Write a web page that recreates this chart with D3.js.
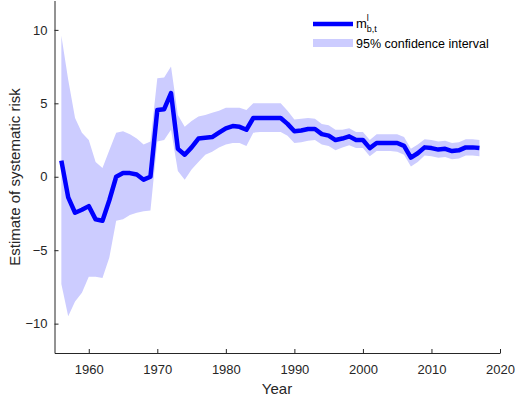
<!DOCTYPE html>
<html>
<head>
<meta charset="utf-8">
<script src="https://d3js.org/d3.v7.min.js"></script>
<style>
  body { margin: 0; background: #fff; }
  svg { font-family: "Liberation Sans", Arial, sans-serif; }
</style>
</head>
<body>
<svg width="515" height="401"></svg>
<script>
  // yearly estimates, 1956-2017
  var years = d3.range(1956, 2018);
  var estimate = [
    1.1, -1.4, -2.45, -2.25, -2.0, -2.9, -3.0, -1.6, 0.0, 0.25,
    0.25, 0.15, -0.2, 0.0, 4.55, 4.6, 5.7, 1.9, 1.5, 2.0,
    2.6, 2.65, 2.7, 3.0, 3.3, 3.45, 3.4, 3.2, 4.0, 4.0,
    4.0, 4.0, 4.0, 3.6, 3.1, 3.15, 3.25, 3.25, 2.9, 2.8,
    2.5, 2.6, 2.75, 2.5, 2.5, 1.95, 2.3, 2.3, 2.3, 2.3,
    2.1, 1.3, 1.6, 2.0, 1.95, 1.85, 1.9, 1.75, 1.8, 2.0,
    2.0, 1.95
  ];
  var upper = [
    9.6, 6.6, 4.0, 3.0, 2.5, 1.0, 0.6, 1.8, 3.0, 3.1,
    2.9, 2.6, 2.2, 2.4, 6.7, 6.75, 7.5, 4.2, 3.4, 3.8,
    4.1, 4.2, 4.35, 4.5, 4.7, 4.7, 4.7, 4.55, 5.0, 5.0,
    5.0, 5.0, 5.0, 4.5, 3.9, 3.95, 4.0, 3.95, 3.6, 3.5,
    3.2, 3.2, 3.3, 3.05, 3.05, 2.5, 2.9, 2.9, 2.9, 2.9,
    2.7, 1.9, 2.2, 2.55, 2.5, 2.4, 2.45, 2.3, 2.35, 2.55,
    2.55, 2.5
  ];
  var lower = [
    -7.3, -9.5, -8.5, -7.9, -6.8, -6.8, -6.9, -5.5, -3.0, -2.9,
    -2.6, -2.45, -2.35, -2.3, 2.4, 2.5, 3.2, 0.4, -0.2, 0.5,
    1.0, 1.5, 1.7, 2.0, 2.2, 2.3, 2.3, 2.1, 3.0, 3.05,
    3.05, 3.05, 3.05, 2.8, 2.3, 2.35, 2.45, 2.5, 2.2, 2.1,
    1.8, 2.0, 2.15, 1.95, 1.95, 1.4, 1.75, 1.75, 1.75, 1.7,
    1.5, 0.7, 1.0, 1.45, 1.4, 1.3, 1.35, 1.2, 1.25, 1.45,
    1.45, 1.4
  ];
  var xTicks = [1960, 1970, 1980, 1990, 2000, 2010, 2020];
  var yTicks = [-10, -5, 0, 5, 10];

  var data = years.map(function (y, i) {
    return { year: y, est: estimate[i], hi: upper[i], lo: lower[i] };
  });

  var svg = d3.select("svg");
  var ink = "#262626";

  var x = d3.scaleLinear().domain([1955, 2020]).range([54.5, 500]);
  var y = d3.scaleLinear().domain([-12, 12]).range([353, 0.5]);

  var area = d3.area()
    .x(function (d) { return x(d.year); })
    .y0(function (d) { return y(d.lo); })
    .y1(function (d) { return y(d.hi); });

  var line = d3.line()
    .x(function (d) { return x(d.year); })
    .y(function (d) { return y(d.est); });

  svg.append("path")
    .datum(data)
    .attr("d", area)
    .attr("fill", "#ccccff")
    .attr("stroke", "none");

  svg.append("path")
    .datum(data)
    .attr("d", line)
    .attr("fill", "none")
    .attr("stroke", "#0000ff")
    .attr("stroke-width", 4.5)
    .attr("stroke-linejoin", "round");

  // axes with inward ticks, like matlab
  var xAxis = svg.append("g")
    .attr("transform", "translate(0,353)")
    .call(d3.axisBottom(x).tickValues(xTicks).tickFormat(d3.format("d"))
      .tickSizeInner(-4).tickSizeOuter(0).tickPadding(12));
  var yAxis = svg.append("g")
    .attr("transform", "translate(54.5,0)")
    .call(d3.axisLeft(y).tickValues(yTicks).tickSizeInner(-4).tickSizeOuter(0).tickPadding(7));

  [xAxis, yAxis].forEach(function (g) {
    g.select(".domain").attr("stroke", ink);
    g.selectAll(".tick line").attr("stroke", ink);
    g.selectAll(".tick text").attr("fill", ink).style("font-size", "13px")
      .style("font-family", "'Liberation Sans', Arial, sans-serif");
  });

  svg.append("text")
    .attr("x", 277).attr("y", 394)
    .attr("text-anchor", "middle")
    .attr("fill", ink)
    .style("font-size", "15px")
    .text("Year");

  svg.append("text")
    .attr("transform", "translate(20,177) rotate(-90)")
    .attr("text-anchor", "middle")
    .attr("fill", ink)
    .style("font-size", "15px")
    .text("Estimate of systematic risk");

  // legend
  var lg = svg.append("g");
  lg.append("line")
    .attr("x1", 313).attr("x2", 353).attr("y1", 24).attr("y2", 24)
    .attr("stroke", "#0000ff").attr("stroke-width", 4.5);
  var lt = lg.append("text").attr("x", 356).attr("y", 28)
    .attr("fill", "#000").style("font-size", "13px");
  lt.append("tspan").text("m");
  lt.append("tspan").attr("dy", -7).style("font-size", "9px").text("l");
  lt.append("tspan").attr("dx", -2).attr("dy", 11).style("font-size", "9px").text("b,t");

  lg.append("rect")
    .attr("x", 313).attr("y", 39).attr("width", 40).attr("height", 8)
    .attr("fill", "#ccccff");
  lg.append("text").attr("x", 356).attr("y", 48)
    .attr("fill", "#000").style("font-size", "12.5px")
    .text("95% confidence interval");
</script>
</body>
</html>
